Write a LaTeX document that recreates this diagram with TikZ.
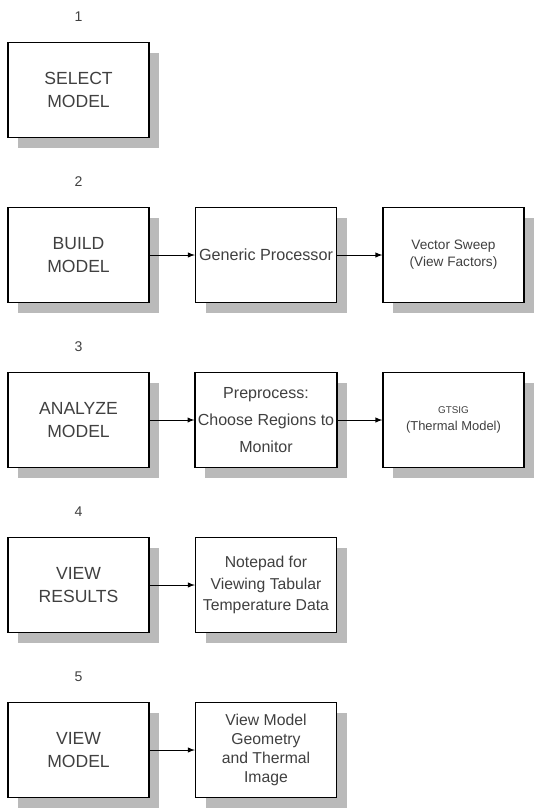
\documentclass[tikz,border=0pt]{standalone}
\usepackage{fontspec}
\setmainfont{Liberation Sans}
\usetikzlibrary{positioning, arrows, shadows}

\begin{document}
\begin{tikzpicture}
	[on grid, auto, node distance=4.125cm and 4.6875cm, >=latex,
	 block/.style={draw, line width=0.9pt, fill=white, minimum width=3.525cm,
	   minimum height=2.375cm, inner sep=2pt, align=center, text=black!75,
	   drop shadow={shadow xshift=0.26cm, shadow yshift=-0.25cm, fill=black!27, opacity=1}},
	 stepbox/.style={block, font=\fontsize{12.5}{16.5}\selectfont},
	 toolbox/.style={block, font=\fontsize{11.2}{13.5}\selectfont},
	 stepnum/.style={text=black!75, font=\fontsize{10}{12}\selectfont}]
   \useasboundingbox (0,0) rectangle (13.375,-20.2);
   % steps on the left
   \node[stepbox] (select) at (1.9625,-2.25) {SELECT\\MODEL};
   \node[stepbox] (build) [below=of select] {BUILD\\MODEL};
   \node[stepbox] (analyze) [below=of build] {ANALYZE\\MODEL};
   \node[stepbox] (results) [below=of analyze] {VIEW\\RESULTS};
   \node[stepbox] (viewmodel) [below=of results] {VIEW\\MODEL};
   % step numbers
   \node[stepnum] (n1) [above=1.825cm of select] {1};
   \node[stepnum] (n2) [above=1.825cm of build] {2};
   \node[stepnum] (n3) [above=1.825cm of analyze] {3};
   \node[stepnum] (n4) [above=1.825cm of results] {4};
   \node[stepnum] (n5) [above=1.825cm of viewmodel] {5};
   % tools
   \node[toolbox, font=\fontsize{11.5}{14}\selectfont] (generic) [right=of build] {Generic Processor};
   \node[toolbox, font=\fontsize{9.7}{12}\selectfont] (sweep) [right=of generic] {Vector Sweep\\(View Factors)};
   \node[toolbox, font=\fontsize{11.4}{19}\selectfont] (prep) [right=of analyze] {Preprocess:\\Choose Regions to\\Monitor};
   \node[toolbox, font=\fontsize{9.2}{12}\selectfont] (gtsig) [right=of prep] {{\fontsize{7}{9}\selectfont GTSIG}\\(Thermal Model)};
   \node[toolbox, font=\fontsize{11.2}{15}\selectfont] (notepad) [right=of results] {Notepad for\\Viewing Tabular\\Temperature Data};
   \node[toolbox] (geometry) [right=of viewmodel] {View Model\\Geometry\\and Thermal\\Image};

    \path[->, line width=0.7pt]
    (build) edge (generic)
    (generic) edge (sweep)
    (analyze) edge (prep)
    (prep) edge (gtsig)
    (results) edge (notepad)
    (viewmodel) edge (geometry);

\end{tikzpicture}
\end{document}
